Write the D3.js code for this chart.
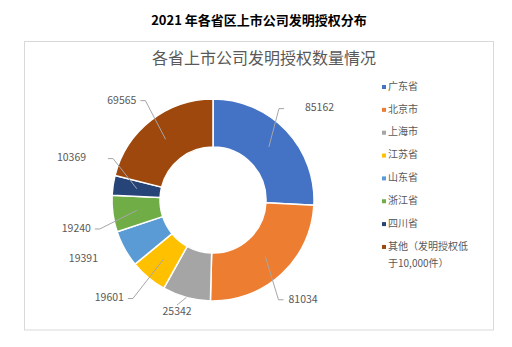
<!DOCTYPE html>
<html><head><meta charset="utf-8">
<script src="https://cdn.jsdelivr.net/npm/d3@7/dist/d3.min.js"></script>
<style>
body{margin:0;background:#fff;}
text{font-family:"Noto Sans CJK SC","Noto Sans",sans-serif;}
</style></head>
<body><svg id="c" width="512" height="347"></svg>
<script>
// ---- data ----
const categories = ["广东省","北京市","上海市","江苏省","山东省","浙江省","四川省","其他（发明授权低于10,000件）"];
const values = [85162,81034,25342,19601,19391,19240,10369,69565];
const colors = ["#4472C4","#ED7D31","#A5A5A5","#FFC000","#5B9BD5","#70AD47","#264478","#9E480E"];
const mainTitle = "2021 年各省区上市公司发明授权分布";
const chartTitle = "各省上市公司发明授权数量情况";

// ---- layout (not data) ----
const cx = 213, cy = 200, rOuter = 101, rInner = 53, rLabel = 140;
const labelNudge = [[5,5],[-5,-3],[1,-23],[-14,-9],[-7,-8],[2,10],[-3,-21],[-5,11]];
const leaderType = ["side","side","edge","side","none","side","side","side"];
const leaderGap = [21,5,0,4,0,4,22,4];

const svg = d3.select("#c");
svg.append("text").attr("x",259).attr("y",21).attr("text-anchor","middle")
  .attr("dominant-baseline","middle").attr("font-size",13).attr("font-weight","bold")
  .attr("fill","#000").text(mainTitle);
svg.append("rect").attr("x",24.5).attr("y",41.5).attr("width",469).attr("height",288.5)
  .attr("fill","#fff").attr("stroke","#d9d9d9").attr("stroke-width",1);
svg.append("text").attr("x",264).attr("y",60).attr("text-anchor","middle")
  .attr("dominant-baseline","middle").attr("font-size",16).attr("fill","#595959").text(chartTitle);

const pie = d3.pie().sort(null).value(d=>d);
const arcs = pie(values);
const arc = d3.arc().innerRadius(rInner).outerRadius(rOuter);
const g = svg.append("g").attr("transform",`translate(${cx},${cy})`);
g.selectAll("path").data(arcs).join("path").attr("d",arc)
  .attr("fill",(d,i)=>colors[i]).attr("stroke","#fff").attr("stroke-width",1.5);

const fmt = d3.format("d");
arcs.forEach((a,i)=>{
  const mid = (a.startAngle+a.endAngle)/2;
  const lx = Math.sin(mid)*rLabel + labelNudge[i][0];
  const ly = -Math.cos(mid)*rLabel + labelNudge[i][1];
  const t = g.append("text").attr("x",lx).attr("y",ly).attr("text-anchor","middle")
    .attr("dominant-baseline","middle").attr("font-size",10.5).attr("fill","#595959").text(fmt(values[i]));
  const w = t.node().getComputedTextLength();
  const c = arc.centroid(a);
  let pts = null;
  if (leaderType[i]==="side") {
    if (lx > 0) { const ex = lx - w/2 - leaderGap[i]; pts = [c,[ex-5,ly],[ex,ly]]; }
    else { const ex = lx + w/2 + leaderGap[i]; pts = [[ex,ly],[ex+5,ly],c]; }
  } else if (leaderType[i]==="edge") {
    pts = [[lx,ly-7],[Math.sin(mid)*rOuter, -Math.cos(mid)*rOuter]];
  }
  if (pts) g.append("path").attr("d",d3.line()(pts)).attr("fill","none")
    .attr("stroke","#a6a6a6").attr("stroke-width",1);
});

// legend
const lg = svg.append("g").attr("transform","translate(382,87)");
categories.forEach((c,i)=>{
  const y = i*22.85;
  lg.append("rect").attr("x",0).attr("y",y-2).attr("width",4).attr("height",4).attr("fill",colors[i]);
  const t = lg.append("text").attr("x",6).attr("y",y).attr("dominant-baseline","middle")
    .attr("font-size",10).attr("fill","#595959");
  if (i===categories.length-1) {
    t.append("tspan").attr("x",6).text("其他（发明授权低");
    t.append("tspan").attr("x",6).attr("dy",17).text("于10,000件）");
  } else t.text(c);
});
</script></body></html>
